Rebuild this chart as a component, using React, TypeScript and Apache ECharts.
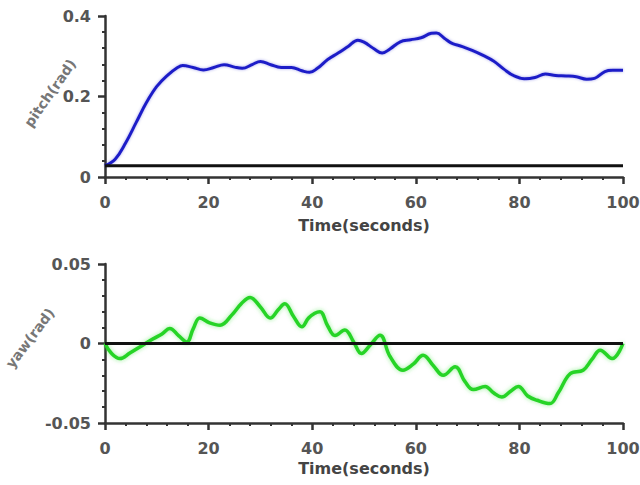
import React, { useEffect, useRef } from "react";
import * as echarts from "echarts";

const pitchData: [number, number][] = [
  [0, 0.028], [2, 0.045], [4, 0.085], [6, 0.135], [8, 0.185], [10, 0.225], [12, 0.252],
  [14, 0.272], [15, 0.277], [17, 0.272], [19, 0.266], [21, 0.272], [23, 0.279], [25, 0.273],
  [26.5, 0.27], [28.5, 0.28], [30, 0.287], [32, 0.279], [34, 0.272], [36, 0.272], [38, 0.264],
  [39.5, 0.26], [41, 0.27], [43, 0.292], [45, 0.308], [47, 0.325], [48.8, 0.34], [50, 0.335],
  [52, 0.318], [53.5, 0.308], [55, 0.318], [57, 0.336], [59, 0.341], [61, 0.346], [63, 0.357],
  [64, 0.358], [65.5, 0.345], [67, 0.332], [69, 0.324], [71, 0.314], [73, 0.302], [75, 0.288],
  [77, 0.268], [79, 0.251], [81, 0.244], [83, 0.247], [85, 0.256], [87, 0.252], [89, 0.251],
  [91, 0.249], [93, 0.243], [94.5, 0.245], [96.5, 0.262], [98, 0.265], [100, 0.265],
];

const yawData: [number, number][] = [
  [0, 0], [1.2, -0.006], [2.9, -0.0095], [4.8, -0.006], [6.8, -0.002], [9.3, 0.003],
  [11, 0.006], [12.5, 0.0095], [14.2, 0.005], [15.8, 0.001], [17, 0.009], [18.3, 0.016],
  [20.2, 0.013], [22.2, 0.0115], [24.5, 0.018], [26.3, 0.025], [28, 0.029], [30, 0.023],
  [31.9, 0.016], [33.4, 0.021], [34.7, 0.025], [36.4, 0.017], [38, 0.0105], [39.3, 0.016],
  [40.5, 0.019], [41.5, 0.02], [43, 0.011], [44.4, 0.005], [46.3, 0.0085], [48, 0.001],
  [49.5, -0.0063], [51.2, -0.001], [53.1, 0.0052], [55, -0.008], [57.5, -0.0168],
  [59.5, -0.013], [61.4, -0.0074], [63.4, -0.014], [65.3, -0.02], [67.6, -0.0147],
  [69.5, -0.024], [71.1, -0.029], [73.4, -0.027], [75, -0.031], [76.6, -0.0337],
  [78.3, -0.03], [79.8, -0.027], [81.6, -0.033], [83.4, -0.0357], [85.9, -0.0378],
  [87.5, -0.031], [89.8, -0.019], [92.3, -0.0168], [94, -0.01], [95.6, -0.0042],
  [97.9, -0.0095], [100, 0],
];

const pitchRefLevel = 0.028;
const yawRefLevel = 0;
const xTickValues = [0, 20, 40, 60, 80, 100];
const pitchTicks = [0, 0.2, 0.4];
const yawTicks = [-0.05, 0, 0.05];

const FONT = "DejaVu Sans";

function axisCommon() {
  return {
    axisLine: { show: true, onZero: false, lineStyle: { color: "#333", width: 2.5 } },
    axisTick: { show: true, inside: false, length: 7, lineStyle: { color: "#333", width: 2.5 } },
    minorTick: { show: true, splitNumber: 5, length: 3, lineStyle: { color: "#333", width: 2 } },
    splitLine: { show: false },
    minorSplitLine: { show: false },
  };
}

export default function App() {
  const ref = useRef<HTMLDivElement>(null);
  useEffect(() => {
    document.body.style.margin = "0";
    if (!ref.current) return;
    const chart = echarts.init(ref.current, null, { renderer: "svg" });
    const labelStyle = { color: "#555", fontFamily: FONT, fontWeight: "bold", fontSize: 16 };
    const xNameStyle = { color: "#444", fontFamily: FONT, fontWeight: "bold", fontSize: 16 };
    const yNameStyle = {
      fill: "#777", fontFamily: FONT, fontWeight: "bold", fontSize: 14,
      align: "center", verticalAlign: "middle",
    };
    const xAxisBase = (gridIndex: number, gap: number) => ({
      type: "value",
      gridIndex,
      min: xTickValues[0],
      max: xTickValues[xTickValues.length - 1],
      interval: 20,
      name: "Time(seconds)",
      nameLocation: "middle",
      nameGap: gap,
      nameTextStyle: xNameStyle,
      axisLabel: { ...labelStyle, margin: 17 },
      ...axisCommon(),
    });
    chart.setOption({
      animation: false,
      grid: [
        { left: 105, top: 16, width: 518, height: 161, containLabel: false, outerBoundsMode: "none" },
        { left: 105, top: 264, width: 518, height: 159, containLabel: false, outerBoundsMode: "none" },
      ],
      xAxis: [xAxisBase(0, 40), xAxisBase(1, 37)],
      yAxis: [
        {
          type: "value",
          gridIndex: 0,
          min: pitchTicks[0],
          max: pitchTicks[pitchTicks.length - 1],
          interval: 0.2,
          axisLabel: { ...labelStyle, margin: 14 },
          ...axisCommon(),
        },
        {
          type: "value",
          gridIndex: 1,
          min: yawTicks[0],
          max: yawTicks[yawTicks.length - 1],
          interval: 0.05,
          axisLabel: { ...labelStyle, margin: 14 },
          ...axisCommon(),
        },
      ],
      graphic: [
        { type: "text", x: 50, y: 93, rotation: (55 * Math.PI) / 180, style: { text: "pitch(rad)", ...yNameStyle } },
        { type: "text", x: 30, y: 338, rotation: (53 * Math.PI) / 180, style: { text: "yaw(rad)", ...yNameStyle } },
      ],
      series: [
        {
          type: "line",
          xAxisIndex: 0,
          yAxisIndex: 0,
          data: pitchData,
          smooth: 0.4,
          showSymbol: false,
          lineStyle: { color: "#1e1ec8", width: 3, shadowColor: "rgba(30,30,200,0.35)", shadowBlur: 3 },
          itemStyle: { color: "#1e1ec8" },
        },
        {
          type: "line",
          xAxisIndex: 0,
          yAxisIndex: 0,
          data: [[0, pitchRefLevel], [100, pitchRefLevel]],
          showSymbol: false,
          lineStyle: { color: "#111", width: 3 },
          itemStyle: { color: "#111" },
        },
        {
          type: "line",
          xAxisIndex: 1,
          yAxisIndex: 1,
          data: yawData,
          smooth: 0.4,
          showSymbol: false,
          lineStyle: { color: "#26d426", width: 3.5, shadowColor: "rgba(40,220,40,0.5)", shadowBlur: 4 },
          itemStyle: { color: "#26d426" },
        },
        {
          type: "line",
          xAxisIndex: 1,
          yAxisIndex: 1,
          data: [[0, yawRefLevel], [100, yawRefLevel]],
          showSymbol: false,
          lineStyle: { color: "#111", width: 3 },
          itemStyle: { color: "#111" },
        },
      ],
    });
    return () => chart.dispose();
  }, []);
  return <div ref={ref} style={{ width: 640, height: 485 }} />;
}
